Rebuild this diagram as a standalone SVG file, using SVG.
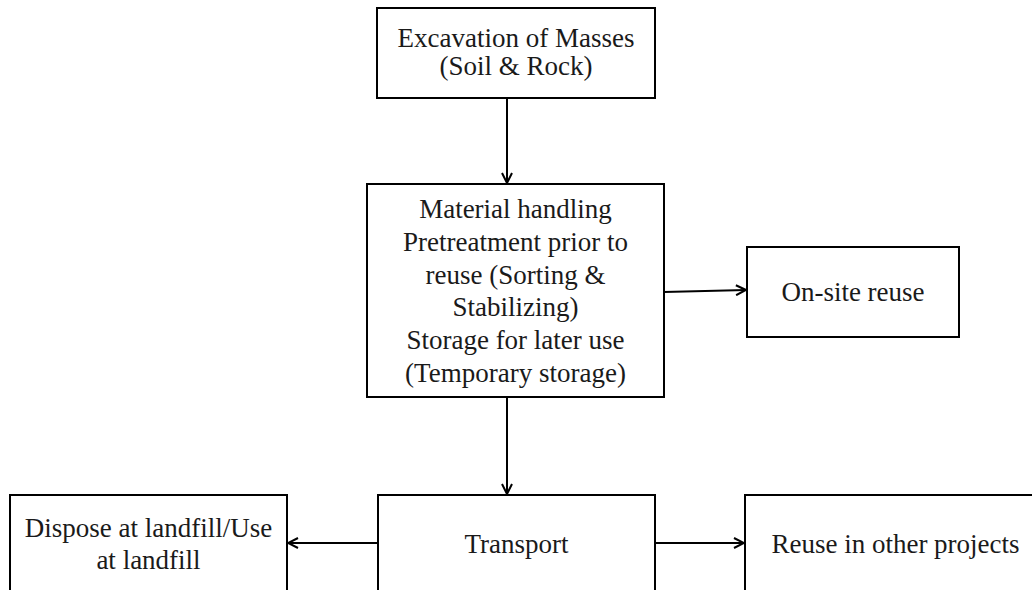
<svg xmlns="http://www.w3.org/2000/svg" width="1032" height="590" viewBox="0 0 1032 590">
<style>
.box{fill:#fff;stroke:#000;stroke-width:2}
.t{font-family:"Liberation Serif","Times New Roman",serif;font-size:27px;fill:#1a1a1a;text-anchor:middle}
.c{stroke:#000;stroke-width:2;fill:none;marker-end:url(#ah)}
</style>
<defs>
<marker id="ah" viewBox="0 0 12 12" refX="11" refY="6" markerWidth="12" markerHeight="12" markerUnits="userSpaceOnUse" orient="auto">
<path d="M1,1 L11,6 L1,11" fill="none" stroke="#000" stroke-width="2"/>
</marker>
</defs>
<rect width="1032" height="590" fill="#fff"/>
<g id="connectors">
<line class="c" x1="507" y1="98" x2="507" y2="183"/>
<line class="c" x1="664" y1="292" x2="746" y2="290"/>
<line class="c" x1="507" y1="397" x2="507" y2="494"/>
<line class="c" x1="378" y1="543" x2="288" y2="543"/>
<line class="c" x1="655" y1="543" x2="744" y2="543"/>
</g>
<g id="excavation">
<rect class="box" x="377" y="8" width="278" height="90"/>
<text class="t" x="516" y="47">Excavation of Masses</text>
<text class="t" x="516" y="75">(Soil &amp; Rock)</text>
</g>
<g id="handling">
<rect class="box" x="367" y="184" width="297" height="213"/>
<text class="t" x="515.5" y="218">Material handling</text>
<text class="t" x="515.5" y="251">Pretreatment prior to</text>
<text class="t" x="515.5" y="284">reuse (Sorting &amp;</text>
<text class="t" x="515.5" y="316">Stabilizing)</text>
<text class="t" x="515.5" y="349">Storage for later use</text>
<text class="t" x="515.5" y="382">(Temporary storage)</text>
</g>
<g id="onsite">
<rect class="box" x="747" y="247" width="212" height="90"/>
<text class="t" x="853" y="301">On-site reuse</text>
</g>
<g id="transport">
<rect class="box" x="378" y="495" width="277" height="96"/>
<text class="t" x="516.5" y="553">Transport</text>
</g>
<g id="dispose">
<rect class="box" x="10" y="495" width="277" height="96"/>
<text class="t" x="148.5" y="537">Dispose at landfill/Use</text>
<text class="t" x="148.5" y="569">at landfill</text>
</g>
<g id="reuse">
<rect class="box" x="745" y="495" width="301" height="96"/>
<text class="t" x="895.5" y="553">Reuse in other projects</text>
</g>
</svg>
